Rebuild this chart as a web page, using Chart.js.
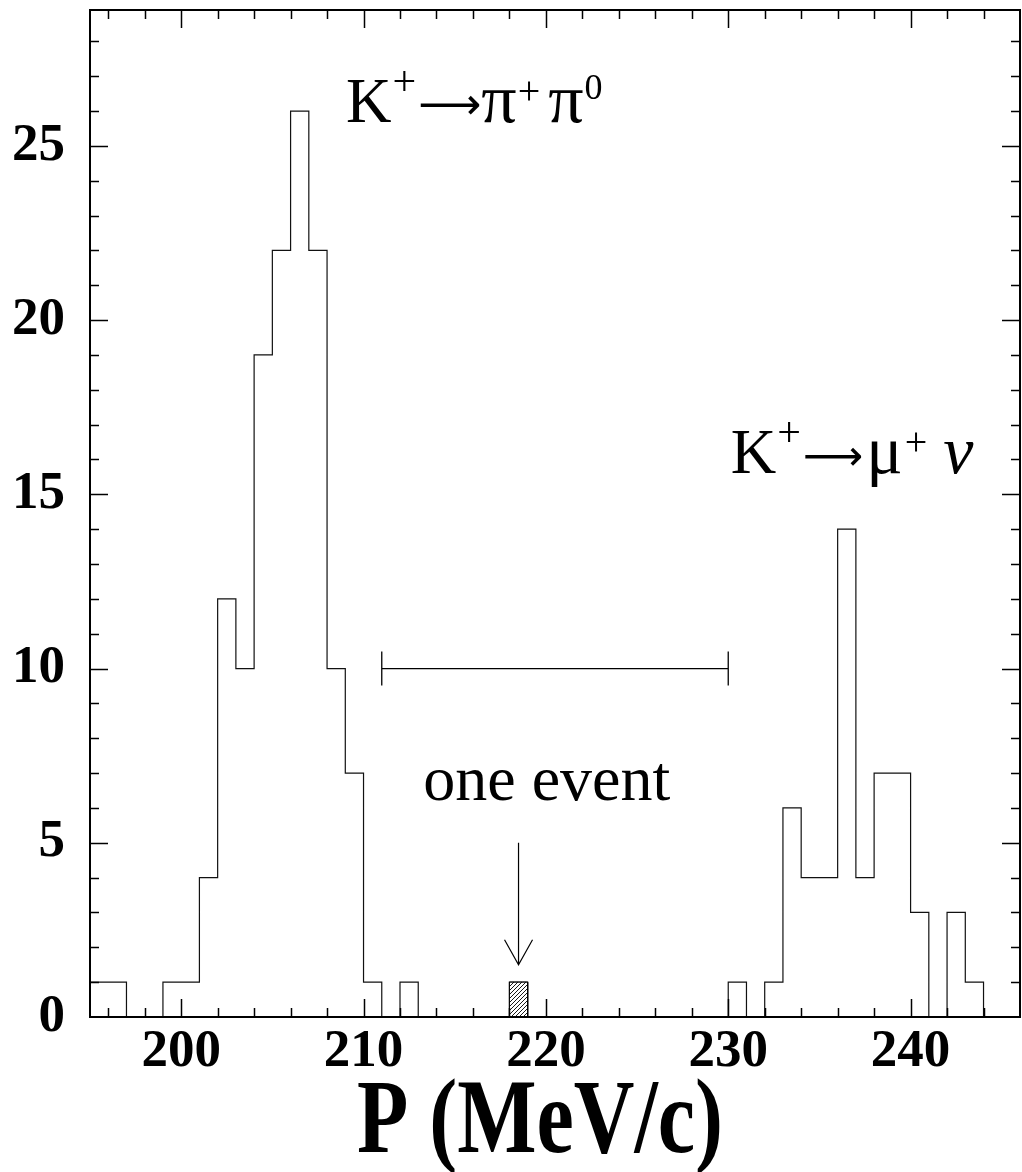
<!DOCTYPE html>
<html>
<head>
<meta charset="utf-8">
<script src="https://cdn.jsdelivr.net/npm/chart.js@4.4.1/dist/chart.umd.min.js"></script>
<style>
  html, body { margin: 0; padding: 0; background: #fff; }
  #wrap { width: 1022px; height: 1172px; }
</style>
</head>
<body>
<div id="wrap"><canvas id="c" width="1022" height="1172"></canvas></div>
<script>
// Momentum spectrum, 1 MeV/c bins from 195 MeV/c
const binStart = 195;
const binWidth = 1;
const counts = [
  1, 1, 0, 0, 1,   1, 4, 12, 10, 19,
  22, 26, 22, 10, 7,   1, 0, 1, 0, 0,
  0, 0, 0, 1, 0,   0, 0, 0, 0, 0,
  0, 0, 0, 0, 0,   1, 0, 1, 6, 4,
  4, 14, 4, 7, 7,   3, 0, 3, 1, 0,
  0
];
// the single candidate event (hatched bin)
const signalBin = [218, 219];
const signalCount = 1;
// signal region marker
const signalRange = [211, 230];
const signalRangeLevel = 10;
// arrow pointing at the candidate
const arrowX = 218.5;
const arrowFromTo = [5, 1.5];

// axes
const xRange = [195, 246];
const yRange = [0, 28.9];
const xTickValues = [200, 210, 220, 230, 240];
const yTickValues = [0, 5, 10, 15, 20, 25];
const xMinorStep = 2;
const yMinorStep = 1;

const xTitle = 'P (MeV/c)';

// outline of the histogram as a step curve over the bin edges
const outline = counts.map((c, i) => ({ x: binStart + i * binWidth, y: c }));
outline.push({ x: binStart + counts.length * binWidth, y: counts[counts.length - 1] });

const signalBox = [
  { x: signalBin[0], y: 0 }, { x: signalBin[0], y: signalCount },
  { x: signalBin[1], y: signalCount }, { x: signalBin[1], y: 0 }
];

function hatchPattern() {
  const s = 4;
  const t = document.createElement('canvas');
  t.width = s; t.height = s;
  const g = t.getContext('2d');
  g.fillStyle = '#fff';
  g.fillRect(0, 0, s, s);
  g.strokeStyle = '#000';
  g.lineWidth = 0.9;
  g.beginPath();
  g.moveTo(0, s); g.lineTo(s, 0);
  g.moveTo(-1, 1); g.lineTo(1, -1);
  g.moveTo(s - 1, s + 1); g.lineTo(s + 1, s - 1);
  g.stroke();
  return g.createPattern(t, 'repeat');
}

const SERIF = "'Liberation Serif', 'Times New Roman', serif";
const SANS = "'DejaVu Sans', sans-serif";

// reaction labels: [text, font size, raise above baseline, gap before, style]
const reactionLabels = [
  { at: [209.04, 25.70], parts: [
    ['K', 63, 0, 0, ''], ['+', 42, 27, 1, ''], ['\u27f6', 44, 3, 2, 'arrow'],
    ['\u03c0', 70, 0, 0, ''], ['+', 40, 18, 1, ''], ['\u03c0', 70, 0, 8, ''],
    ['0', 36, 23, 1, '']
  ]},
  { at: [230.14, 15.61], parts: [
    ['K', 63, 0, 0, ''], ['+', 42, 27, 1, ''], ['\u27f6', 42, 3, 2, 'arrow'],
    ['\u03bc', 68, 0, 3, ''], ['+', 40, 18, 2, ''], ['\u03bd', 68, 0, 16, 'italic']
  ]}
];
const eventLabel = { text: 'one event', at: [220.05, 6.23], size: 64 };

const decorations = {
  id: 'decorations',
  afterDraw(chart) {
    const { ctx, chartArea: a, scales: { x, y } } = chart;
    ctx.save();
    ctx.strokeStyle = '#000';
    ctx.fillStyle = '#000';

    // frame
    ctx.lineWidth = 2;
    ctx.strokeRect(a.left, a.top, a.right - a.left, a.bottom - a.top);

    // inward ticks on all four sides
    ctx.lineWidth = 1.5;
    ctx.beginPath();
    for (let v = Math.ceil(xRange[0] / xMinorStep) * xMinorStep; v < xRange[1]; v += xMinorStep) {
      const px = Math.round(x.getPixelForValue(v)) + 0.5;
      const len = v % 10 === 0 ? 18 : 9;
      ctx.moveTo(px, a.bottom); ctx.lineTo(px, a.bottom - len);
      ctx.moveTo(px, a.top); ctx.lineTo(px, a.top + len);
    }
    for (let v = yMinorStep; v < yRange[1]; v += yMinorStep) {
      const py = Math.round(y.getPixelForValue(v)) + 0.5;
      const len = v % 5 === 0 ? 18 : 9;
      ctx.moveTo(a.left, py); ctx.lineTo(a.left + len, py);
      ctx.moveTo(a.right, py); ctx.lineTo(a.right - len, py);
    }
    ctx.stroke();

    // signal region bar with end caps
    ctx.lineWidth = 1.3;
    const r0 = x.getPixelForValue(signalRange[0]);
    const r1 = x.getPixelForValue(signalRange[1]);
    const ry = y.getPixelForValue(signalRangeLevel);
    ctx.beginPath();
    ctx.moveTo(r0, ry); ctx.lineTo(r1, ry);
    ctx.moveTo(r0, ry - 17); ctx.lineTo(r0, ry + 17);
    ctx.moveTo(r1, ry - 17); ctx.lineTo(r1, ry + 17);
    ctx.stroke();

    // arrow to the candidate event
    const ax = x.getPixelForValue(arrowX);
    const ay0 = y.getPixelForValue(arrowFromTo[0]);
    const ay1 = y.getPixelForValue(arrowFromTo[1]);
    ctx.lineWidth = 1.2;
    ctx.beginPath();
    ctx.moveTo(ax, ay0); ctx.lineTo(ax, ay1);
    ctx.moveTo(ax - 14, ay1 - 25); ctx.lineTo(ax, ay1); ctx.lineTo(ax + 14, ay1 - 25);
    ctx.stroke();

    // text
    ctx.textBaseline = 'alphabetic';
    ctx.textAlign = 'left';
    for (const lab of reactionLabels) {
      let cx = x.getPixelForValue(lab.at[0]);
      const base = y.getPixelForValue(lab.at[1]);
      for (const [t, size, raise, gap, style] of lab.parts) {
        if (style === 'arrow') ctx.font = size + 'px ' + SANS;
        else ctx.font = (style === 'italic' ? 'italic ' : '') + size + 'px ' + SERIF;
        cx += gap;
        ctx.fillText(t, cx, base - raise);
        cx += ctx.measureText(t).width;
      }
    }
    ctx.font = eventLabel.size + 'px ' + SERIF;
    ctx.textAlign = 'center';
    ctx.fillText(eventLabel.text, x.getPixelForValue(eventLabel.at[0]), y.getPixelForValue(eventLabel.at[1]));

    // axis title, tall condensed bold
    ctx.save();
    ctx.translate(540, 1152);
    ctx.scale(1, 1.25);
    ctx.font = 'bold 84px ' + SERIF;
    ctx.fillText(xTitle, 0, 0);
    ctx.restore();

    ctx.restore();
  }
};

new Chart(document.getElementById('c'), {
  type: 'line',
  data: {
    datasets: [
      {
        data: signalBox,
        borderColor: '#000',
        borderWidth: 1,
        backgroundColor: hatchPattern(),
        fill: 'origin',
        pointRadius: 0,
        tension: 0
      },
      {
        data: outline,
        stepped: 'before',
        borderColor: '#111',
        borderWidth: 1.2,
        fill: false,
        pointRadius: 0
      }
    ]
  },
  options: {
    responsive: false,
    animation: false,
    events: [],
    layout: { padding: { top: 10, right: 2, left: 0, bottom: 0 } },
    plugins: { legend: { display: false }, tooltip: { enabled: false } },
    scales: {
      x: {
        type: 'linear',
        min: xRange[0], max: xRange[1],
        grid: { display: false, drawTicks: false },
        border: { display: false },
        afterBuildTicks: s => { s.ticks = xTickValues.map(v => ({ value: v })); },
        afterFit: s => { s.height = 155; s.paddingLeft = 0; s.paddingRight = 0; },
        ticks: {
          padding: 4,
          color: '#000',
          maxRotation: 0,
          autoSkip: false,
          font: { family: SERIF, size: 53, weight: 'bold' },
          callback: v => String(v)
        }
      },
      y: {
        type: 'linear',
        min: yRange[0], max: yRange[1],
        grid: { display: false, drawTicks: false },
        border: { display: false },
        afterBuildTicks: s => { s.ticks = yTickValues.map(v => ({ value: v })); },
        afterFit: s => { s.width = 90; s.paddingTop = 0; s.paddingBottom = 0; },
        ticks: {
          padding: 25,
          color: '#000',
          autoSkip: false,
          font: { family: SERIF, size: 53, weight: 'bold' },
          callback: v => String(v)
        }
      }
    }
  },
  plugins: [decorations]
});
</script>
</body>
</html>
